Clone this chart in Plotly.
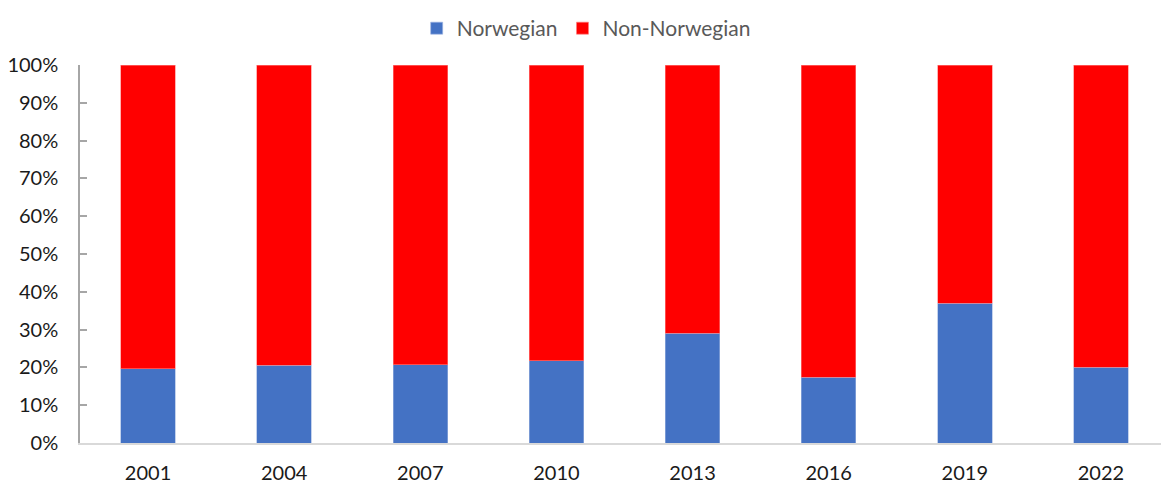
import plotly.graph_objects as go

# ── Data ─────────────────────────────────────────────
YEARS = ["2001", "2004", "2007", "2010", "2013", "2016", "2019", "2022"]
NORWEGIAN = [19.6, 20.6, 20.7, 21.8, 29.0, 17.4, 37.0, 20.1]
NON_NORWEGIAN = [round(100 - v, 1) for v in NORWEGIAN]

BLUE = "#4472C4"
RED = "#FF0000"
FONT = "Lato, 'Open Sans', sans-serif"

fig = go.Figure()
fig.add_trace(go.Bar(
    x=YEARS, y=NORWEGIAN, name="Norwegian",
    marker=dict(color=BLUE, line=dict(color="#9db4e0", width=0.6)),
))
fig.add_trace(go.Bar(
    x=YEARS, y=NON_NORWEGIAN, name="Non-Norwegian",
    marker=dict(color=RED, line=dict(color="#ff8080", width=0.6)),
))

# page body has an 8px default margin, so the figure is sized to fit inside
fig.update_layout(
    barmode="stack",
    bargap=0.6,
    width=1161, height=480,
    margin=dict(l=72, r=0, t=57, b=45, autoexpand=False),
    plot_bgcolor="white",
    paper_bgcolor="white",
    font=dict(family=FONT, size=20, color="#1a1a1a"),
    legend=dict(orientation="h", x=0.498, xanchor="center", xref="container",
                y=1.0, yanchor="top", yref="container",
                font=dict(size=21, color="#595959"),
                itemwidth=30, traceorder="normal"),
    showlegend=True,
)
fig.update_xaxes(
    showline=True, linecolor="#d9d9d9", linewidth=2,
    ticks="", showgrid=False, ticklabelstandoff=11, automargin=False,
)
fig.update_yaxes(
    range=[0, 100], dtick=10, ticksuffix="%",
    showline=True, linecolor="#a6a6a6", linewidth=1.5,
    ticks="inside", ticklen=7, tickcolor="#a6a6a6", tickwidth=1.5,
    showgrid=False, zeroline=False, ticklabelstandoff=16, automargin=False,
)

fig.write_html("out.html")
